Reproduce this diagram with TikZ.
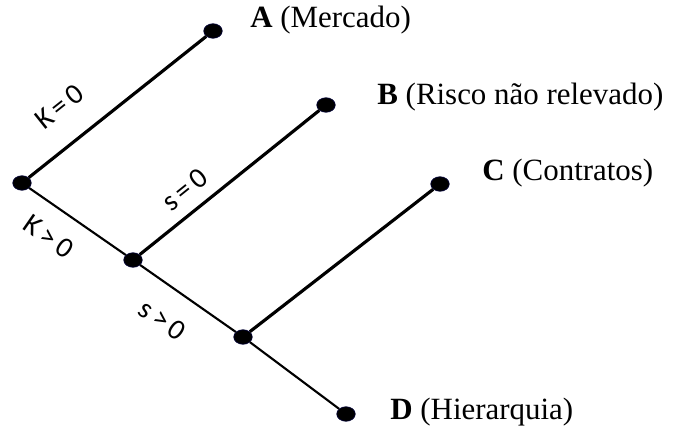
\documentclass[tikz,border=0pt]{standalone}
\usepackage{fontspec}
\setmainfont{Liberation Serif}
\newfontfamily\edgefont{Carlito}
\usetikzlibrary{shapes.geometric,positioning}

\begin{document}
\begin{tikzpicture}[
  x=0.02cm,y=-0.02cm,
  dot/.style={ellipse,fill=black,draw=black!80!blue,line width=0.4pt,
              minimum width=0.37cm,minimum height=0.29cm,inner sep=0pt},
  outcome/.style={anchor=west,inner sep=0pt,font=\fontsize{17.6}{20}\selectfont},
  branch/.style={line width=1.8pt},
  trunk/.style={line width=1.2pt},
  cond/.style={sloped,font=\edgefont\fontsize{16.5}{19}\selectfont},
]
\useasboundingbox (0,0) rectangle (678,432);
\node[dot] (root) at (22,183) {};
\node[dot] (ndA) at (213,31) {};
\node[dot] (splitB) at (133,260) {};
\node[dot] (ndB) at (326,105) {};
\node[dot] (splitC) at (243,337) {};
\node[dot] (ndC) at (440,184) {};
\node[dot] (ndD) at (346,414) {};

\node[outcome] (labA) at (250,20) {\textbf{A} (Mercado)};
\node[outcome] (labB) at (377,97) {\textbf{B} (Risco não relevado)};
\node[outcome] (labC) at (482,173) {\textbf{C} (Contratos)};
\node[outcome] (labD) at (390,412) {\textbf{D} (Hierarquia)};

\draw[branch] (root) -- node[cond,pos=0.3,above=11pt] {K\,=\,0} (ndA);
\draw[branch] (splitB) -- node[cond,pos=0.33,above=3pt] {s\,=\,0} (ndB);
\draw[branch] (splitC) -- (ndC);
\draw[trunk] (root) -- node[cond,pos=0.37,below=7pt] {K\,>\,0} (splitB);
\draw[trunk] (splitB) -- node[cond,pos=0.43,below=9pt] {s\,>\,0} (splitC);
\draw[trunk] (splitC) -- (ndD);
\end{tikzpicture}
\end{document}
